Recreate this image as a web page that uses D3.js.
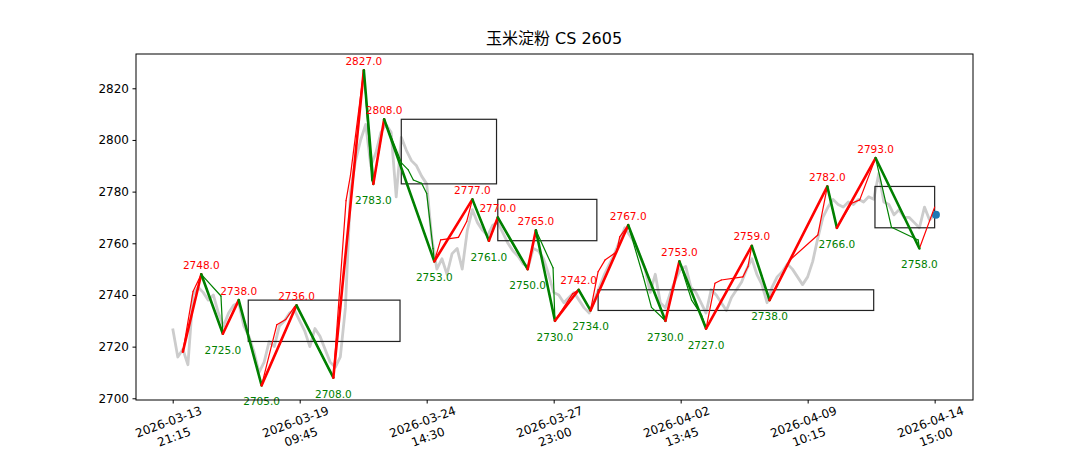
<!DOCTYPE html>
<html>
<head>
<meta charset="utf-8">
<script src="https://cdn.jsdelivr.net/npm/d3@7"></script>
<style>
  html, body { margin: 0; padding: 0; background: #fff; }
  svg { display: block; }
  text { font-family: "DejaVu Sans", "Noto Sans CJK SC", sans-serif; }
</style>
</head>
<body>
<svg id="chart" width="1080" height="450"></svg>
<script>
// ---------------- DATA ----------------
const title = "玉米淀粉 CS 2605";
const barStep = 4; // close values sampled every 4 bars
const closeValues = [
  2727, 2716, 2719, 2713, 2740, 2743, 2741, 2738, 2740, 2733,
  2728, 2733, 2736, 2737, 2728, 2724, 2718, 2710, 2714, 2722,
  2720, 2728, 2730, 2733, 2734, 2730, 2726, 2720, 2727, 2724,
  2719, 2714, 2712, 2716, 2735, 2780, 2792, 2800, 2806, 2790,
  2795, 2803, 2806, 2803, 2778, 2801, 2796, 2792, 2790, 2786,
  2783, 2762, 2750, 2754, 2748, 2756, 2758, 2750, 2765, 2773,
  2768, 2765, 2763, 2767, 2768, 2764, 2760, 2757, 2755, 2752,
  2751, 2758, 2757, 2754, 2748, 2741, 2740, 2737, 2739, 2741,
  2738, 2735, 2733, 2738, 2743, 2748, 2752, 2756, 2761, 2766,
  2763, 2760, 2755, 2750, 2741, 2748, 2737, 2735, 2741, 2746,
  2750, 2751, 2743, 2741, 2737, 2733, 2742, 2740, 2737, 2734,
  2739, 2742, 2745, 2750, 2754, 2748, 2744, 2737, 2743, 2747,
  2749, 2752, 2750, 2747, 2744, 2747, 2753, 2762, 2770, 2774,
  2777, 2775, 2774, 2776, 2775, 2777, 2776, 2778, 2777, 2787,
  2776, 2775, 2771, 2773, 2770, 2770, 2768, 2766, 2774, 2769,
  2771
];

// main zigzag pivots (bar index, price); first point is the start (no label)
const pivotIdx = [8, 22.5, 39.5, 52, 70, 97.5, 126.5, 150.5, 158, 166.5,
  206, 236, 249, 256, 279.5, 286, 301, 319.7, 329, 358.7,
  388, 399, 420, 456, 470, 515.5, 523, 553.5, 588];
const pivotVal = [2718, 2748, 2725, 2738, 2705, 2736, 2708, 2827, 2783, 2808,
  2753, 2777, 2761, 2770, 2750, 2765, 2730, 2742, 2734, 2767,
  2730, 2753, 2727, 2759, 2738, 2782, 2766, 2793, 2758];

// sub-level zigzag (thin lines)
const subIdx = [8, 16, 22.5, 38, 39.5, 52, 70, 82, 89, 96, 97.5, 126.5, 136.5, 140, 150.5,
  156.7, 158, 160.6, 166.5, 180.3, 185.5, 189.5, 196, 200, 205, 206, 211, 225, 231.5, 236,
  249, 256, 273.5, 279.5, 286, 299.5, 301, 315, 319.7, 329, 335, 340.4, 349.6, 352, 358.7,
  370.6, 377, 386, 388, 399, 408.6, 416.5, 420, 427, 432, 449, 453, 456, 470, 486,
  508, 515.5, 523, 534.6, 541, 553.5, 566, 587, 588, 600];
const subVal = [2718, 2741.3, 2748, 2739.6, 2725, 2738, 2705, 2728.5, 2730.5, 2735.5, 2736, 2708, 2776.5, 2786.4, 2827,
  2784.5, 2783, 2790.3, 2808, 2791, 2788.4, 2784.5, 2783.2, 2779.3, 2758, 2753, 2761.3, 2762.3, 2768.4, 2777,
  2761, 2770, 2754.8, 2750, 2765, 2750.5, 2730, 2740.5, 2742, 2734, 2749, 2753.5, 2756.7, 2762.5, 2767,
  2747, 2735.2, 2731, 2730, 2753, 2738, 2732.2, 2727, 2744.5, 2745.8, 2747, 2751, 2759, 2738, 2753.5,
  2763.2, 2782, 2766, 2775.5, 2776.8, 2793, 2766.2, 2761.3, 2758, 2774];

// pivot zones (boxes)
const boxStart = [59.5, 180, 256, 335, 553];
const boxEnd   = [179, 255, 334, 552, 600];
const boxLow   = [2722, 2783, 2761, 2734, 2766];
const boxHigh  = [2738, 2808, 2777, 2742, 2782];

// last price marker
const lastIdx = 601;
const lastPrice = 2771;

// axis ticks
const yTicks = [2700, 2720, 2740, 2760, 2780, 2800, 2820];
const xTickIdx = [0, 100, 200, 300, 400, 500, 600];
const xTickDate = ["2026-03-13", "2026-03-19", "2026-03-24", "2026-03-27", "2026-04-02", "2026-04-09", "2026-04-14"];
const xTickTime = ["21:15", "09:45", "14:30", "23:00", "13:45", "10:15", "15:00"];

// ---------------- DRAW ----------------
const svg = d3.select("#chart");
const L = 136, R = 973, T = 54, B = 400;

const x = d3.scaleLinear().domain([-28.9, 630.2]).range([L, R]);
const y = d3.scaleLinear().domain([2699.34, 2833.27]).range([B, T]);

svg.append("rect").attr("width", 1080).attr("height", 450).attr("fill", "#fff");

svg.append("defs").append("clipPath").attr("id", "clip")
  .append("rect").attr("x", L).attr("y", T).attr("width", R - L).attr("height", B - T);

const plot = svg.append("g").attr("clip-path", "url(#clip)");

// gray close line
const closePts = closeValues.map((v, i) => [i * barStep, v]);
plot.append("path")
  .datum(closePts)
  .attr("fill", "none")
  .attr("stroke", "#cccccc")
  .attr("stroke-width", 2.8)
  .attr("stroke-linejoin", "round")
  .attr("d", d3.line().x(d => x(d[0])).y(d => y(d[1])));

// boxes
boxStart.forEach((s, i) => {
  plot.append("rect")
    .attr("x", x(s))
    .attr("y", y(boxHigh[i]))
    .attr("width", x(boxEnd[i]) - x(s))
    .attr("height", y(boxLow[i]) - y(boxHigh[i]))
    .attr("fill", "none")
    .attr("stroke", "#222")
    .attr("stroke-width", 1.2);
});

// last price dot
plot.append("circle")
  .attr("cx", x(lastIdx)).attr("cy", y(lastPrice)).attr("r", 4)
  .attr("fill", "#1f77b4");

// thin sub zigzag
for (let i = 0; i < subIdx.length - 1; i++) {
  const up = subVal[i + 1] >= subVal[i];
  plot.append("line")
    .attr("x1", x(subIdx[i])).attr("y1", y(subVal[i]))
    .attr("x2", x(subIdx[i + 1])).attr("y2", y(subVal[i + 1]))
    .attr("stroke", up ? "#ff0000" : "#008000")
    .attr("stroke-width", 1.2)
    .attr("stroke-linecap", "round");
}

// thick main zigzag
for (let i = 0; i < pivotIdx.length - 1; i++) {
  const up = pivotVal[i + 1] >= pivotVal[i];
  plot.append("line")
    .attr("x1", x(pivotIdx[i])).attr("y1", y(pivotVal[i]))
    .attr("x2", x(pivotIdx[i + 1])).attr("y2", y(pivotVal[i + 1]))
    .attr("stroke", up ? "#ff0000" : "#008000")
    .attr("stroke-width", 2.6)
    .attr("stroke-linecap", "round");
}

// pivot labels
for (let i = 1; i < pivotIdx.length; i++) {
  const isHigh = pivotVal[i] > pivotVal[i - 1];
  svg.append("text")
    .attr("x", x(pivotIdx[i]))
    .attr("y", isHigh ? y(pivotVal[i]) - 5.5 : y(pivotVal[i]) + 20)
    .attr("text-anchor", "middle")
    .attr("font-size", 10.5)
    .attr("fill", isHigh ? "#ff0000" : "#008000")
    .text(pivotVal[i].toFixed(1));
}

// frame
svg.append("rect")
  .attr("x", L).attr("y", T).attr("width", R - L).attr("height", B - T)
  .attr("fill", "none").attr("stroke", "#000").attr("stroke-width", 1);

// y axis
const yAxis = svg.append("g").attr("transform", `translate(${L},0)`)
  .call(d3.axisLeft(y).tickValues(yTicks).tickSize(3.5).tickPadding(3.5).tickFormat(d3.format("d")));
yAxis.select(".domain").remove();
yAxis.selectAll("text").attr("font-size", 12).attr("fill", "#000")
  .style("font-family", "'DejaVu Sans', sans-serif");
yAxis.selectAll("line").attr("stroke", "#000");

// x axis
const xAxis = svg.append("g").attr("transform", `translate(0,${B})`)
  .call(d3.axisBottom(x).tickValues(xTickIdx).tickSize(3.5).tickFormat(""));
xAxis.select(".domain").remove();
xAxis.selectAll("line").attr("stroke", "#000");

xTickIdx.forEach((t, i) => {
  const g = svg.append("g")
    .attr("transform", `translate(${x(t) - 1.5},${429}) rotate(-20)`);
  g.append("text").attr("x", 0).attr("y", -3.5)
    .attr("text-anchor", "middle").attr("font-size", 12).attr("fill", "#000")
    .text(xTickDate[i]);
  g.append("text").attr("x", 0).attr("y", 12.5)
    .attr("text-anchor", "middle").attr("font-size", 12).attr("fill", "#000")
    .text(xTickTime[i]);
});

// title
svg.append("text")
  .attr("x", 554).attr("y", 44)
  .attr("text-anchor", "middle")
  .attr("font-size", 16)
  .attr("fill", "#000")
  .text(title);
</script>
</body>
</html>
